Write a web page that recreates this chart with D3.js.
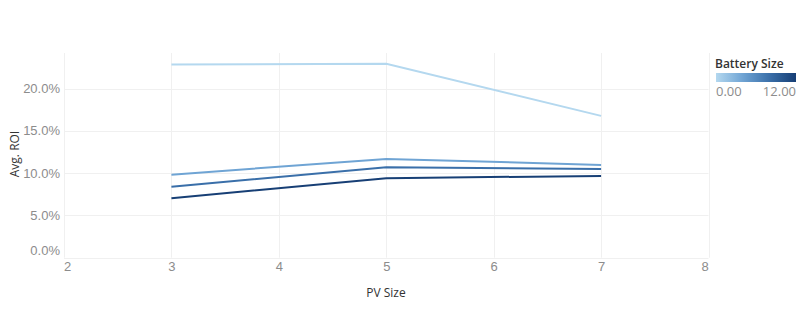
<!DOCTYPE html>
<html><head><meta charset="utf-8">
<script src="https://cdn.jsdelivr.net/npm/d3@7"></script>
<style>
html,body{margin:0;padding:0;background:#fff;}
svg{display:block;font-family:"Open Sans",sans-serif;}
</style></head><body>
<svg id="c" width="800" height="332"></svg>
<script>
const pvSizes = [3, 5, 7];
const batterySizes = [0, 4, 8, 12];
const roiBattery0 = [22.84, 22.92, 16.77];
const roiBattery4 = [9.82, 11.68, 10.97];
const roiBattery8 = [8.40, 10.70, 10.50];
const roiBattery12 = [7.03, 9.40, 9.67];
const xTicks = [2, 3, 4, 5, 6, 7, 8];
const yTicks = [0, 5, 10, 15, 20];
const legendLabels = ["0.00", "12.00"];

const seriesValues = [roiBattery0, roiBattery4, roiBattery8, roiBattery12];
const series = batterySizes.map((b, i) => ({battery: b, points: pvSizes.map((pv, j) => ({pv, roi: seriesValues[i][j]}))}));

const svg = d3.select("#c");
const x = d3.scaleLinear().domain([2, 8]).range([64, 708.5]);
const y = d3.scaleLinear().domain([0, 24.2]).range([257.7, 53]);
const color = d3.scaleLinear().domain([0, 4, 8, 12]).range(["#b4d8ef", "#6fa4d4", "#3a6fa9", "#173f75"]);

// gridlines
svg.append("g").selectAll("line").data(yTicks).join("line")
  .attr("x1", x(2)).attr("x2", x(8))
  .attr("y1", d => Math.round(y(d)) + 0.5).attr("y2", d => Math.round(y(d)) + 0.5)
  .attr("stroke", "#f0f0f0").attr("stroke-width", 1);
svg.append("g").selectAll("line").data(xTicks).join("line")
  .attr("x1", d => Math.round(x(d)) + 0.5).attr("x2", d => Math.round(x(d)) + 0.5)
  .attr("y1", y(24.2)).attr("y2", y(0))
  .attr("stroke", "#f0f0f0").attr("stroke-width", 1);

// axes
const yAxis = d3.axisLeft(y).tickValues(yTicks).tickFormat(d => d3.format(".1f")(d) + "%").tickSize(0).tickPadding(0);
const gy = svg.append("g").attr("transform", "translate(60,0)").call(yAxis);
gy.select(".domain").remove();
gy.selectAll("text").attr("fill", "#8c8c8c").style("font-size", "13px")
  .attr("dy", d => d === 0 ? "-0.25em" : "0.32em");

const xAxis = d3.axisBottom(x).tickValues(xTicks).tickFormat(d3.format("d")).tickSize(0).tickPadding(0);
const gx = svg.append("g").attr("transform", "translate(0,262)").call(xAxis);
gx.select(".domain").remove();
gx.selectAll("text").attr("fill", "#8c8c8c").style("font-size", "13px")
  .attr("dx", d => d === 2 ? "3px" : d === 8 ? "-4px" : "0");

// axis titles
svg.append("text").attr("x", 386).attr("y", 297).attr("text-anchor", "middle")
  .attr("fill", "#333").style("font-size", "12px").text("PV Size");
svg.append("text").attr("transform", "translate(19,154) rotate(-90)").attr("text-anchor", "middle")
  .attr("fill", "#333").style("font-size", "12px").text("Avg. ROI");

// lines
const line = d3.line().x(d => x(d.pv)).y(d => y(d.roi));
svg.append("g").selectAll("path").data(series).join("path")
  .attr("d", d => line(d.points))
  .attr("fill", "none")
  .attr("stroke", d => color(d.battery))
  .attr("stroke-width", 2);

// legend
const defs = svg.append("defs");
const grad = defs.append("linearGradient").attr("id", "lg");
d3.range(0, 1.0001, 0.1).forEach(t => grad.append("stop").attr("offset", t).attr("stop-color", color(t * 12)));
svg.append("text").attr("x", 715).attr("y", 68).attr("fill", "#333")
  .style("font-size", "12px").style("font-weight", "600").text("Battery Size");
svg.append("rect").attr("x", 716).attr("y", 73).attr("width", 80).attr("height", 9).attr("fill", "url(#lg)");
svg.append("text").attr("x", 716).attr("y", 96).attr("fill", "#8c8c8c").style("font-size", "13px").text(legendLabels[0]);
svg.append("text").attr("x", 796).attr("y", 96).attr("text-anchor", "end").attr("fill", "#8c8c8c").style("font-size", "13px").text(legendLabels[1]);
</script>
</body></html>
